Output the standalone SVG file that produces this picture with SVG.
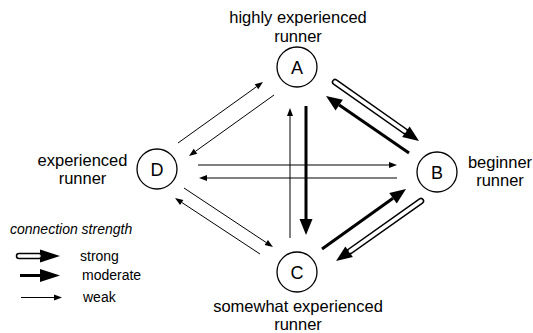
<svg xmlns="http://www.w3.org/2000/svg" width="533" height="333" viewBox="0 0 533 333">
  <style>
    text { font-family: "Liberation Sans", Arial, sans-serif; fill: #000; }
    .lbl { font-size: 16.5px; text-anchor: middle; }
    .node circle { fill: #fff; stroke: #000; stroke-width: 1.3; }
    .node text.id { font-size: 18px; text-anchor: middle; }
    .weak { fill: none; stroke: #000; stroke-width: 1; marker-end: url(#head-small); }
    .moderate { fill: none; stroke: #000; stroke-width: 3; marker-end: url(#head-big); }
    .strong-outer { fill: none; stroke: #000; stroke-width: 6.5; stroke-linecap: round; marker-end: url(#head-big); }
    .strong-inner { fill: none; stroke: #fff; stroke-width: 3.5; stroke-linecap: round; }
    .legend-title { font-size: 14px; font-style: italic; }
    .legend-text { font-size: 14px; }
  </style>
  <defs>
    <marker id="head-big" markerUnits="userSpaceOnUse" orient="auto" markerWidth="18" markerHeight="14" refX="0" refY="6.5" overflow="visible">
      <path d="M0,0 L16,6.5 L0,13 z" fill="#000"/>
    </marker>
    <marker id="head-small" markerUnits="userSpaceOnUse" orient="auto" markerWidth="9" markerHeight="7" refX="0" refY="3" overflow="visible">
      <path d="M0,0 L8,3 L0,6 z" fill="#000"/>
    </marker>
    <marker id="head-legend" markerUnits="userSpaceOnUse" orient="auto" markerWidth="21" markerHeight="14" refX="0" refY="6.5" overflow="visible">
      <path d="M0,0 L20,6.5 L0,13 z" fill="#000"/>
    </marker>
  </defs>

  <!-- connectors -->
  <g id="connectors">
    <!-- A <-> C -->
    <path class="moderate" d="M306,106 L306,219"/>
    <path class="weak" d="M290,238 L290,116"/>
    <!-- A <-> B -->
    <path class="strong-outer" d="M335,82 L405.9,131.8"/>
    <path class="strong-inner" d="M335,82 L404.7,131"/>
    <path class="moderate" d="M409,153 L339.2,105.1"/>
    <!-- B <-> C -->
    <path class="moderate" d="M322,249 L393,198.3"/>
    <path class="strong-outer" d="M421,201 L349.1,251.8"/>
    <path class="strong-inner" d="M421,201 L350.3,251"/>
    <!-- D <-> B -->
    <path class="weak" d="M198,165 L389,165"/>
    <path class="weak" d="M397,178 L207,178"/>
    <!-- D <-> A -->
    <path class="weak" d="M178,143 L256.5,86.7"/>
    <path class="weak" d="M274,95 L195.5,151.3"/>
    <!-- D <-> C -->
    <path class="weak" d="M184,188 L266.3,242.6"/>
    <path class="weak" d="M260,254 L181.7,202.4"/>
  </g>

  <!-- nodes -->
  <g id="node-A" class="node">
    <circle cx="297" cy="67" r="20"/>
    <text class="id" x="297" y="73.5">A</text>
    <text class="lbl" x="298" y="23">highly experienced</text>
    <text class="lbl" x="298" y="42">runner</text>
  </g>
  <g id="node-B" class="node">
    <circle cx="437" cy="172" r="20"/>
    <text class="id" x="437" y="178.5">B</text>
    <text class="lbl" x="500" y="168">beginner</text>
    <text class="lbl" x="500" y="186">runner</text>
  </g>
  <g id="node-C" class="node">
    <circle cx="297" cy="272" r="20"/>
    <text class="id" x="297" y="278.5">C</text>
    <text class="lbl" x="298" y="312">somewhat experienced</text>
    <text class="lbl" x="298" y="330">runner</text>
  </g>
  <g id="node-D" class="node">
    <circle cx="157" cy="169" r="20"/>
    <text class="id" x="157" y="175.5">D</text>
    <text class="lbl" x="82.5" y="166">experienced</text>
    <text class="lbl" x="82.5" y="184">runner</text>
  </g>

  <!-- legend -->
  <g id="legend">
    <text class="legend-title" x="10" y="234">connection strength</text>
    <path d="M19,256 L40,256" fill="none" stroke="#000" stroke-width="6.5" stroke-linecap="round" marker-end="url(#head-legend)"/>
    <path d="M19,256 L39,256" fill="none" stroke="#fff" stroke-width="3.5" stroke-linecap="round"/>
    <text class="legend-text" x="80" y="261">strong</text>
    <path d="M20,275.5 L40,275.5" fill="none" stroke="#000" stroke-width="3" marker-end="url(#head-legend)"/>
    <text class="legend-text" x="82" y="280">moderate</text>
    <path d="M21,297.5 L54,297.5" fill="none" stroke="#000" stroke-width="1" marker-end="url(#head-small)"/>
    <text class="legend-text" x="83" y="302">weak</text>
  </g>
</svg>
